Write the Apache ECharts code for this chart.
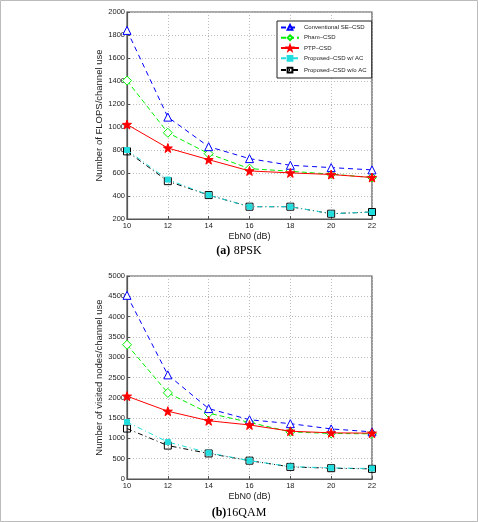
<!DOCTYPE html>
<html><head><meta charset="utf-8">
<script src="https://cdn.jsdelivr.net/npm/echarts@6/dist/echarts.min.js"></script>
<style>html,body{margin:0;padding:0;background:#fff}#c{width:478px;height:522px}</style>
</head><body><div id="c"></div>
<script>
const ebn0 = [10, 12, 14, 16, 18, 20, 22];
const seriesNames = ['Conventional SE\u2013CSD', 'Pham\u2013CSD', 'PTP\u2013CSD', 'Proposed\u2013CSD w/ AC', 'Proposed\u2013CSD w/o AC'];
// (a) 8PSK: FLOPS/channel use
const flopsConv = [1840, 1086, 829, 725, 667, 647, 627];
const flopsPham = [1403, 950, 768, 638, 615, 590, 561];
const flopsPTP = [1022, 817, 716, 618, 601, 587, 561];
const flopsPropAC = [800, 543, 408, 307, 307, 246, 261];
const flopsPropNoAC = [788, 529, 408, 307, 307, 246, 261];
// (b) 16QAM: visited nodes/channel use
const nodesConv = [4524, 2565, 1734, 1460, 1363, 1234, 1161];
const nodesPham = [3307, 2121, 1621, 1395, 1161, 1121, 1113];
const nodesPTP = [2040, 1669, 1435, 1331, 1177, 1137, 1129];
const nodesPropAC = [1403, 911, 645, 452, 306, 274, 258];
const nodesPropNoAC = [1242, 823, 629, 452, 298, 266, 250];

const styles = [
  {color:'#0000ff', symbol:'triangle', size:8, type:[5,4], fill:'#fff'},
  {color:'#00ee00', symbol:'diamond', size:9, type:[5,3], fill:'#fff'},
  {color:'#ff0000', symbol:'path://M0,-10 L2.4,-3.2 L9.5,-3.1 L3.8,1.2 L5.9,8.1 L0,4 L-5.9,8.1 L-3.8,1.2 L-9.5,-3.1 L-2.4,-3.2 Z', size:9, type:'solid', fill:'#ff0000'},
  {color:'#22dddd', symbol:'rect', size:5, type:[5,3,1,3], fill:'#22dddd'},
  {color:'#000000', symbol:'rect', size:7, type:[5,3,1,3], fill:'none'}
];
const font = 'Liberation Sans, Arial, sans-serif';
function mk(data, idx, axisIdx, z) {
  const s = styles[idx];
  return {
    name: seriesNames[idx], type:'line', xAxisIndex:axisIdx, yAxisIndex:axisIdx,
    data: ebn0.map((x,i)=>[x,data[i]]),
    symbol: s.symbol, symbolSize: s.size, showAllSymbol:true,
    lineStyle:{color:s.color, width:1, type:s.type},
    itemStyle:{color:s.fill, borderColor:s.color, borderWidth:1},
    z: z, animation:false
  };
}
const axisLine = {show:true, lineStyle:{color:'#555', width:1.2}};
const plain = v => String(v);
function xAx(i){ return {
  type:'value', gridIndex:i, min:10, max:22, interval:2,
  name:'EbN0 (dB)', nameLocation:'middle', nameGap:13, nameMoveOverlap:false,
  nameTextStyle:{fontFamily:font, fontSize:9, color:'#222'},
  axisLine:axisLine, axisTick:{show:true, inside:true, length:3, lineStyle:{color:'#555'}},
  axisLabel:{fontFamily:font, fontSize:7.5, color:'#222', margin:3, formatter:plain},
  splitLine:{show:true, lineStyle:{color:'#bbb', type:[1,2], width:1}}
};}
function yAx(i, min, max, interval, name){ return {
  type:'value', gridIndex:i, min:min, max:max, interval:interval,
  name:name, nameLocation:'middle', nameGap:23, nameMoveOverlap:false,
  nameTextStyle:{fontFamily:font, fontSize:9.5, color:'#222'},
  axisLine:axisLine, axisTick:{show:true, inside:true, length:3, lineStyle:{color:'#555'}},
  axisLabel:{fontFamily:font, fontSize:7.5, color:'#222', margin:2, formatter:plain},
  splitLine:{show:true, lineStyle:{color:'#bbb', type:[1,2], width:1}}
};}
const chart = echarts.init(document.getElementById('c'), null, {renderer:'canvas'});
chart.setOption({
  backgroundColor:'#fff',
  animation:false,
  grid:[
    {left:127, width:245, top:12, height:207, show:true, borderColor:'#555', borderWidth:1.2},
    {left:127, width:245, top:276, height:203, show:true, borderColor:'#555', borderWidth:1.2}
  ],
  xAxis:[xAx(0), xAx(1)],
  yAxis:[yAx(0,200,2000,200,'Number of FLOPS/channel use'), yAx(1,0,5000,500,'Number of visited nodes/channel use')],
  legend:{
    data:seriesNames, orient:'vertical', left:277, top:21,
    itemWidth:18, itemHeight:6, itemGap:3.5, padding:[3,5,3,3],
    backgroundColor:'#fff', borderColor:'#222', borderWidth:1,
    textStyle:{fontFamily:font, fontSize:6, color:'#222'}
  },
  series:[
    mk(flopsConv,0,0,5), mk(flopsPham,1,0,4), mk(flopsPTP,2,0,6), mk(flopsPropNoAC,4,0,2), mk(flopsPropAC,3,0,3),
    mk(nodesConv,0,1,5), mk(nodesPham,1,1,4), mk(nodesPTP,2,1,6), mk(nodesPropNoAC,4,1,2), mk(nodesPropAC,3,1,3)
  ],
  graphic:[
    {type:'rect', shape:{x:0.5,y:0.5,width:477,height:521}, style:{fill:'none', stroke:'#bbb', lineWidth:1}, silent:true},
    {type:'text', left:'center', top:245, style:{
      text:'{b|(a)} {r|8PSK}', rich:{b:{fontFamily:'Liberation Serif, Times New Roman, serif', fontWeight:'bold', fontSize:12, fill:'#000'}, r:{fontFamily:'Liberation Serif, Times New Roman, serif', fontSize:12, fill:'#000'}}
    }},
    {type:'text', left:'center', top:507, style:{
      text:'{b|(b)}{r|16QAM}', rich:{b:{fontFamily:'Liberation Serif, Times New Roman, serif', fontWeight:'bold', fontSize:12, fill:'#000'}, r:{fontFamily:'Liberation Serif, Times New Roman, serif', fontSize:12, fill:'#000'}}
    }}
  ]
});
</script></body></html>
